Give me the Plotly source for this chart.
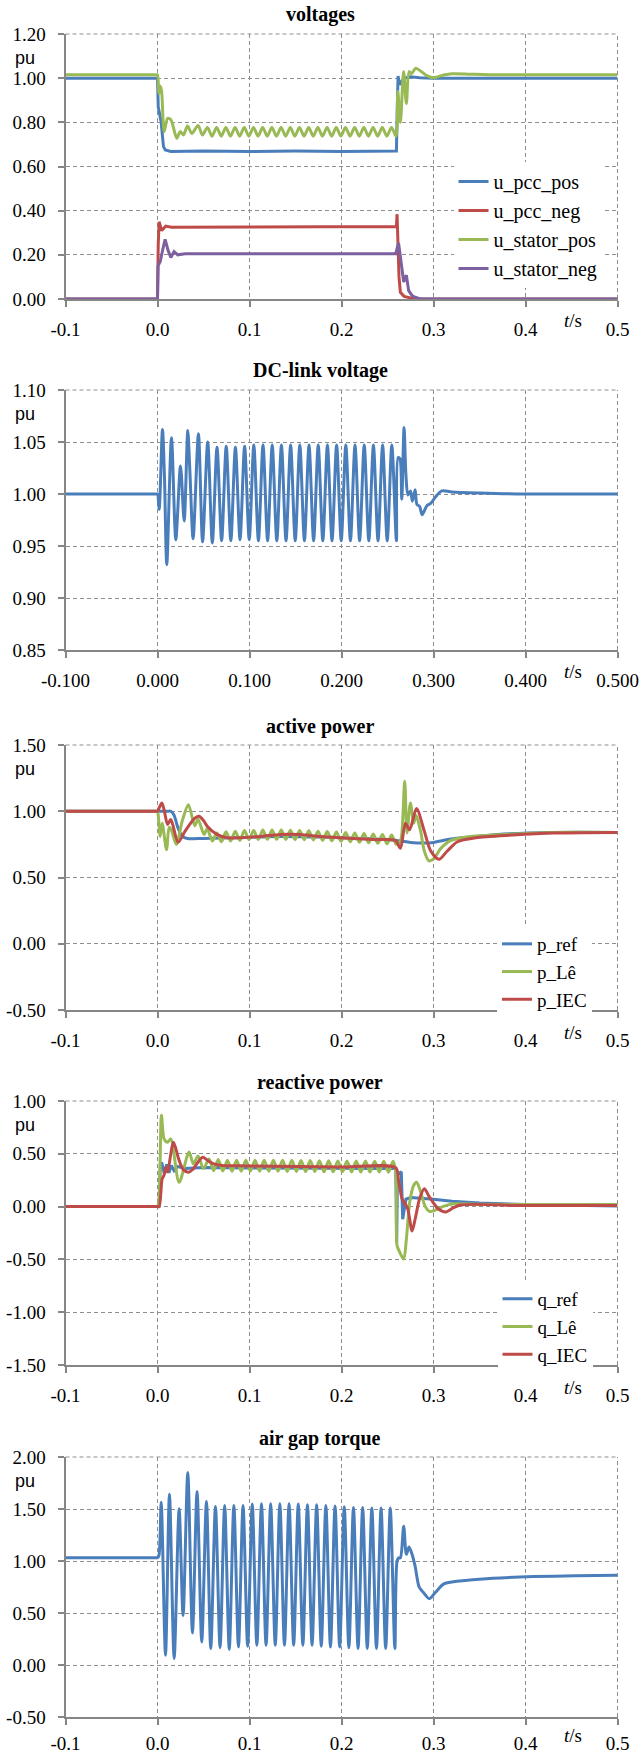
import plotly.graph_objects as go

# ---------------- data ----------------
x_ticks = [-0.1, 0.0, 0.1, 0.2, 0.3, 0.4, 0.5]
x_labels = ["-0.1", "0.0", "0.1", "0.2", "0.3", "0.4", "0.5"]
x_labels_dc = ["-0.100", "0.000", "0.100", "0.200", "0.300", "0.400", "0.500"]

y1_ticks = [0.0, 0.2, 0.4, 0.6, 0.8, 1.0, 1.2]
y1_labels = ["0.00", "0.20", "0.40", "0.60", "0.80", "1.00", "1.20"]
y2_ticks = [0.85, 0.90, 0.95, 1.00, 1.05, 1.10]
y2_labels = ["0.85", "0.90", "0.95", "1.00", "1.05", "1.10"]
y3_ticks = [-0.5, 0.0, 0.5, 1.0, 1.5]
y3_labels = ["-0.50", "0.00", "0.50", "1.00", "1.50"]
y4_ticks = [-1.5, -1.0, -0.5, 0.0, 0.5, 1.0]
y4_labels = ["-1.50", "-1.00", "-0.50", "0.00", "0.50", "1.00"]
y5_ticks = [-0.5, 0.0, 0.5, 1.0, 1.5, 2.0]
y5_labels = ["-0.50", "0.00", "0.50", "1.00", "1.50", "2.00"]

panel_titles = ["voltages", "DC-link voltage", "active power", "reactive power", "air gap torque"]

# voltages
t_upp = [-0.1, 0.0, 0.0008, 0.0020, 0.0040, 0.0065, 0.0085, 0.0145, 0.0500, 0.1000, 0.1500, 0.2000,
         0.2597, 0.2605, 0.2615, 0.2630, 0.2650, 0.2680, 0.2750, 0.2850, 0.3000, 0.5000]
v_upp = [1.0, 1.0, 0.87, 0.84, 0.80, 0.69, 0.675, 0.668, 0.670, 0.668, 0.670, 0.668,
         0.670, 0.85, 1.01, 0.97, 0.985, 1.0, 1.006, 1.002, 1.0, 1.0]

t_upn = [-0.1, 0.0, 0.0008, 0.0018, 0.0045, 0.0090, 0.0150, 0.1000, 0.2000, 0.2597, 0.2604, 0.2612,
         0.2625, 0.2640, 0.2680, 0.2760, 0.2850, 0.5000]
v_upn = [0.0, 0.0, 0.25, 0.35, 0.31, 0.33, 0.325, 0.325, 0.325, 0.328, 0.384, 0.30,
         0.10, 0.03, 0.012, 0.004, 0.0, 0.0]

t_usp = [-0.1, -0.0010, 0.0, 0.0015, 0.0030, 0.0045, 0.0072, 0.0110, 0.0145, 0.0210, 0.0246, 0.0282, 0.0326, 0.0373,
         0.0441, 0.0488,
         0.0543, 0.0593, 0.0643, 0.0693, 0.0743, 0.0793, 0.0843, 0.0893, 0.0943, 0.0993, 0.1043, 0.1093, 0.1143, 0.1193,
         0.1243, 0.1293, 0.1343, 0.1393, 0.1443, 0.1493, 0.1543, 0.1593, 0.1643, 0.1693, 0.1743, 0.1793, 0.1843, 0.1893,
         0.1943, 0.1993, 0.2043, 0.2093, 0.2143, 0.2193, 0.2243, 0.2293, 0.2343, 0.2393, 0.2443, 0.2493, 0.2543, 0.2593,
         0.2612, 0.2640, 0.2675, 0.2705, 0.2735, 0.2760, 0.2808, 0.2866, 0.2933, 0.3000, 0.3110, 0.3200, 0.3400, 0.3600,
         0.5000]
v_usp = [1.015, 1.015, 1.015, 0.93, 0.965, 0.94, 0.758, 0.818, 0.812, 0.728, 0.758, 0.743, 0.783, 0.750,
         0.786, 0.743,
         0.777, 0.737, 0.777, 0.737, 0.777, 0.737, 0.777, 0.737, 0.777, 0.737, 0.777, 0.737, 0.777, 0.737,
         0.777, 0.737, 0.777, 0.737, 0.777, 0.737, 0.777, 0.737, 0.777, 0.737, 0.777, 0.737, 0.777, 0.737,
         0.777, 0.737, 0.777, 0.737, 0.777, 0.737, 0.777, 0.737, 0.777, 0.737, 0.777, 0.737, 0.777, 0.737,
         0.94, 0.80, 1.03, 0.885, 1.03, 1.02, 1.045, 1.03, 1.01, 1.002, 1.014, 1.02, 1.018, 1.016,
         1.015]

t_usn = [-0.1, 0.0, 0.0006, 0.0030, 0.0055, 0.0083, 0.0115, 0.0145, 0.0180, 0.0220, 0.0300, 0.1000, 0.2000,
         0.2590, 0.2620, 0.2658, 0.2676, 0.2705, 0.2730, 0.2767, 0.2800, 0.2860, 0.5000]
v_usn = [0.0, 0.0, 0.15, 0.17, 0.22, 0.27, 0.22, 0.188, 0.215, 0.200, 0.205, 0.205, 0.205,
         0.205, 0.254, 0.138, 0.077, 0.108, 0.038, 0.015, 0.008, 0.0, 0.0]

# DC-link voltage
t_dc = [-0.1, -0.0010, 0.0, 0.0018, 0.0054, 0.0075, 0.0101, 0.0152, 0.0199, 0.0250, 0.0290, 0.0329, 0.0352, 0.0387,
        0.0445, 0.0490, 0.0546, 0.0596,
        0.0647, 0.0697, 0.0747, 0.0797, 0.0847, 0.0897, 0.0947, 0.0997, 0.1047, 0.1097, 0.1147, 0.1197, 0.1247, 0.1297,
        0.1347, 0.1397, 0.1447, 0.1497, 0.1547, 0.1597, 0.1647, 0.1697, 0.1747, 0.1797, 0.1847, 0.1897, 0.1947, 0.1997,
        0.2047, 0.2097, 0.2147, 0.2197, 0.2247, 0.2297, 0.2347, 0.2397, 0.2447, 0.2497, 0.2547, 0.2597,
        0.2615, 0.2635, 0.2655, 0.2680, 0.2700, 0.2722, 0.2750, 0.2770, 0.2800, 0.2820, 0.2850, 0.2876, 0.2930, 0.2970,
        0.3020, 0.3090, 0.3200, 0.3500, 0.4000, 0.5000]
v_dc = [1.000, 1.000, 1.000, 0.985, 1.062, 1.019, 0.932, 1.054, 0.956, 1.027, 0.974, 1.061, 1.022, 0.957,
        1.058, 0.954, 1.050, 0.953,
        1.045, 0.955, 1.046, 0.955, 1.045, 0.956, 1.046, 0.956, 1.047, 0.955, 1.047, 0.955, 1.047, 0.955,
        1.047, 0.955, 1.047, 0.955, 1.047, 0.955, 1.047, 0.955, 1.047, 0.955, 1.047, 0.955, 1.047, 0.955,
        1.047, 0.955, 1.047, 0.955, 1.047, 0.955, 1.047, 0.955, 1.047, 0.955, 1.047, 0.955,
        1.035, 1.034, 0.995, 1.064, 1.019, 0.999, 1.003, 0.993, 1.004, 0.990, 0.988, 0.980, 0.989, 0.991,
        0.997, 1.003, 1.002, 1.001, 1.000, 1.000]

# active power
t_pref = [-0.1, 0.0100, 0.0145, 0.0180, 0.0220, 0.0270, 0.0325, 0.0500, 0.0870, 0.1300, 0.1800, 0.2200, 0.2600,
          0.2750, 0.2900, 0.3000, 0.3190, 0.3400, 0.3700, 0.4300, 0.5000]
v_pref = [1.0, 1.0, 1.0, 0.97, 0.88, 0.81, 0.795, 0.795, 0.80, 0.81, 0.805, 0.795, 0.78,
          0.765, 0.76, 0.765, 0.79, 0.805, 0.825, 0.84, 0.84]

t_ple = [-0.1, -0.0010, 0.0, 0.0012, 0.0029, 0.0051, 0.0098, 0.0127, 0.0150, 0.0205, 0.0270, 0.0336, 0.0405, 0.0440,
         0.0506, 0.0540, 0.0597,
         0.0645, 0.0695, 0.0745, 0.0795, 0.0845, 0.0895, 0.0945, 0.0995, 0.1045, 0.1095, 0.1145, 0.1195, 0.1245, 0.1295,
         0.1345, 0.1395, 0.1445, 0.1495, 0.1545, 0.1595, 0.1645, 0.1695, 0.1745, 0.1795, 0.1845, 0.1895, 0.1945, 0.1995,
         0.2045, 0.2095, 0.2145, 0.2195, 0.2245, 0.2295, 0.2345, 0.2395, 0.2445, 0.2495, 0.2545, 0.2595,
         0.2625, 0.2650, 0.2687, 0.2712, 0.2749, 0.2785, 0.2810, 0.2860, 0.2900, 0.2950, 0.3000, 0.3080, 0.3190, 0.3400,
         0.3640, 0.4300, 0.5000]
v_ple = [1.0, 1.0, 1.0, 0.94, 0.81, 0.91, 0.71, 0.88, 0.86, 0.75, 0.93, 1.05, 0.89, 0.94,
         0.825, 0.87, 0.775,
         0.835, 0.770, 0.845, 0.775, 0.850, 0.780, 0.855, 0.785, 0.855, 0.787, 0.858, 0.788, 0.858, 0.788,
         0.858, 0.787, 0.857, 0.786, 0.855, 0.785, 0.853, 0.783, 0.850, 0.780, 0.847, 0.777, 0.843, 0.773,
         0.840, 0.770, 0.836, 0.766, 0.832, 0.762, 0.828, 0.758, 0.824, 0.754, 0.820, 0.750,
         0.76, 0.80, 1.226, 0.836, 1.063, 0.91, 0.97, 0.85, 0.70, 0.625, 0.64, 0.72, 0.78, 0.81,
         0.82, 0.84, 0.84]

t_piec = [-0.1, -0.0010, 0.0, 0.0047, 0.0075, 0.0110, 0.0145, 0.0224, 0.0300, 0.0400, 0.0450, 0.0500, 0.0540, 0.0650,
          0.0760, 0.0900, 0.1120, 0.1340, 0.1550, 0.1770, 0.1990, 0.2350, 0.2586, 0.2640, 0.2695, 0.2740, 0.2815,
          0.2900, 0.2970, 0.3060, 0.3150, 0.3260, 0.3460, 0.3860, 0.4300, 0.5000]
v_piec = [1.0, 1.0, 1.0, 1.063, 1.0, 0.90, 0.937, 0.766, 0.85, 0.945, 0.962, 0.93, 0.887, 0.824,
          0.80, 0.80, 0.81, 0.825, 0.824, 0.81, 0.80, 0.786, 0.78, 0.72, 0.91, 0.86, 1.02,
          0.85, 0.70, 0.637, 0.70, 0.77, 0.80, 0.82, 0.835, 0.84]

# reactive power
t_qref = [-0.1, 0.0015, 0.0030, 0.0045, 0.0075, 0.0100, 0.0125, 0.0150, 0.0180, 0.0220, 0.0300, 0.0500, 0.1000,
          0.2000, 0.2590, 0.2600, 0.2608, 0.2650, 0.2665, 0.2700, 0.2750, 0.3000, 0.3200, 0.3500, 0.4000, 0.5000]
v_qref = [0.0, 0.0, 0.38, 0.42, 0.31, 0.40, 0.32, 0.39, 0.34, 0.38, 0.36, 0.37, 0.365,
          0.36, 0.36, -0.34, 0.30, 0.33, -0.12, 0.07, 0.085, 0.07, 0.05, 0.035, 0.02, 0.005]

t_qle = [-0.1, -0.0010, 0.0, 0.0015, 0.0043, 0.0072, 0.0108, 0.0145, 0.0235, 0.0343, 0.0390, 0.0441, 0.0500,
         0.0560, 0.0610, 0.0660, 0.0710, 0.0760, 0.0810, 0.0860, 0.0910, 0.0960, 0.1010, 0.1060, 0.1110, 0.1160,
         0.1210, 0.1260, 0.1310, 0.1360, 0.1410, 0.1460, 0.1510, 0.1560, 0.1610, 0.1660, 0.1710, 0.1760, 0.1810,
         0.1860, 0.1910, 0.1960, 0.2010, 0.2060, 0.2110, 0.2160, 0.2210, 0.2260, 0.2310, 0.2360, 0.2410, 0.2460,
         0.2510, 0.2560,
         0.2590, 0.2604, 0.2632, 0.2676, 0.2705, 0.2741, 0.2784, 0.2816, 0.2860, 0.2910, 0.2955, 0.3000, 0.3100,
         0.3200, 0.3500, 0.4000, 0.5000]
v_qle = [0.0, 0.0, 0.0, 0.05, 0.864, 0.64, 0.61, 0.64, 0.23, 0.516, 0.405, 0.48, 0.36,
         0.450, 0.340, 0.445, 0.337, 0.440, 0.335, 0.440, 0.335, 0.440, 0.335, 0.440, 0.335, 0.440,
         0.335, 0.440, 0.335, 0.438, 0.333, 0.438, 0.333, 0.436, 0.332, 0.436, 0.332, 0.435, 0.330,
         0.435, 0.330, 0.433, 0.330, 0.433, 0.328, 0.432, 0.328, 0.432, 0.327, 0.430, 0.327, 0.430,
         0.326, 0.430,
         0.33, -0.37, -0.43, -0.497, -0.31, 0.04, 0.20, 0.23, 0.14, 0.0, -0.045, -0.04, 0.0,
         0.025, 0.022, 0.02, 0.02]

t_qiec = [-0.1, -0.0010, 0.0, 0.0018, 0.0050, 0.0072, 0.0090, 0.0108, 0.0174, 0.0230, 0.0280, 0.0340, 0.0380,
          0.0490, 0.0540, 0.0610, 0.0700, 0.1000, 0.2000, 0.2590, 0.2620, 0.2660, 0.2690, 0.2720, 0.2767, 0.2800,
          0.2850, 0.2900, 0.2950, 0.3050, 0.3135, 0.3200, 0.3290, 0.4000, 0.5000]
v_qiec = [0.0, 0.0, 0.0, 0.0, 0.26, 0.30, 0.37, 0.33, 0.61, 0.45, 0.35, 0.326, 0.35,
          0.468, 0.44, 0.405, 0.39, 0.385, 0.375, 0.367, 0.25, 0.07, 0.03, -0.02, -0.23, -0.12,
          0.08, 0.17, 0.10, -0.02, -0.05, -0.02, 0.015, 0.01, 0.01]

# air gap torque
t_tq = [-0.1, -0.0010, 0.0, 0.0015, 0.0040, 0.0087, 0.0130, 0.0181, 0.0235, 0.0278, 0.0329, 0.0380, 0.0430, 0.0481,
        0.0532, 0.0579,
        0.0630, 0.0680, 0.0730, 0.0780, 0.0830, 0.0880, 0.0930, 0.0980, 0.1030, 0.1080, 0.1130, 0.1180, 0.1230, 0.1280,
        0.1330, 0.1380, 0.1430, 0.1480, 0.1530, 0.1580, 0.1630, 0.1680, 0.1730, 0.1780, 0.1830, 0.1880, 0.1930, 0.1980,
        0.2030, 0.2080, 0.2130, 0.2180, 0.2230, 0.2280, 0.2330, 0.2380, 0.2430, 0.2480, 0.2530, 0.2580,
        0.2604, 0.2622, 0.2640, 0.2676, 0.2705, 0.2734, 0.2767, 0.2800, 0.2844, 0.2888, 0.2955, 0.3022, 0.3112, 0.3200,
        0.3424, 0.3647, 0.4094, 0.4540, 0.5000]
v_tq = [1.032, 1.032, 1.032, 1.05, 1.566, 0.094, 1.642, 0.062, 1.502, 0.476, 1.852, 0.307, 1.668, 0.221,
        1.572, 0.158,
        1.524, 0.167, 1.534, 0.151, 1.534, 0.174, 1.534, 0.180, 1.547, 0.189, 1.550, 0.189, 1.550, 0.189,
        1.550, 0.189, 1.550, 0.189, 1.547, 0.189, 1.540, 0.189, 1.540, 0.180, 1.534, 0.174, 1.528, 0.174,
        1.521, 0.167, 1.515, 0.158, 1.515, 0.158, 1.509, 0.158, 1.509, 0.158, 1.509, 0.158,
        1.0, 1.03, 1.03, 1.334, 1.064, 1.134, 1.064, 0.95, 0.75, 0.70, 0.638, 0.70, 0.78, 0.798,
        0.82, 0.835, 0.85, 0.858, 0.862]

for a, b in [(t_upp, v_upp), (t_upn, v_upn), (t_usp, v_usp), (t_usn, v_usn), (t_dc, v_dc),
             (t_pref, v_pref), (t_ple, v_ple), (t_piec, v_piec), (t_qref, v_qref), (t_qle, v_qle),
             (t_qiec, v_qiec), (t_tq, v_tq)]:
    assert len(a) == len(b), (len(a), len(b))

# ---------------- styling / layout ----------------
W, H = 644, 1754
BLUE, RED, GREEN, PURPLE = "#4A7EBB", "#BE4B48", "#98B954", "#7D60A0"
AXC = "#868686"
GRIDC = "#8f8f8f"
SERIF = "Liberation Serif, Times New Roman, serif"
SANS = "Liberation Sans, Arial, sans-serif"

X_L, X_R = 65.5, 617.5
panels = [(34, 299), (390, 650), (745, 1010), (1101, 1365), (1457, 1717)]
yranges = [[0, 1.2], [0.85, 1.10], [-0.5, 1.5], [-1.5, 1.0], [-0.5, 2.0]]
yticks = [(y1_ticks, y1_labels), (y2_ticks, y2_labels), (y3_ticks, y3_labels),
          (y4_ticks, y4_labels), (y5_ticks, y5_labels)]
x_standoff = [6, 6, 6, 6, 2]


def fx(p):
    return p / W


def fy(p):
    return 1 - p / H


fig = go.Figure()


def add(t, v, name, color, idx, legend=None, shape="spline"):
    sfx = "" if idx == 1 else str(idx)
    line = dict(color=color, width=3, shape=shape)
    if shape == "spline":
        line["smoothing"] = 0.8
    fig.add_trace(go.Scatter(
        x=t, y=v, mode="lines", name=name, line=line,
        xaxis="x" + sfx, yaxis="y" + sfx,
        showlegend=legend is not None,
        legend=legend if legend else "legend",
        hoverinfo="skip",
    ))


add(t_upp, v_upp, "u_pcc_pos", BLUE, 1, "legend", "linear")
add(t_upn, v_upn, "u_pcc_neg", RED, 1, "legend", "linear")
add(t_usp, v_usp, "u_stator_pos", GREEN, 1, "legend", "spline")
add(t_usn, v_usn, "u_stator_neg", PURPLE, 1, "legend", "linear")
add(t_dc, v_dc, "u_dc", BLUE, 2, None, "spline")
add(t_pref, v_pref, "p_ref", BLUE, 3, "legend2", "spline")
add(t_ple, v_ple, "p_Lê", GREEN, 3, "legend2", "spline")
add(t_piec, v_piec, "p_IEC", RED, 3, "legend2", "spline")
add(t_qref, v_qref, "q_ref", BLUE, 4, "legend3", "linear")
add(t_qle, v_qle, "q_Lê", GREEN, 4, "legend3", "spline")
add(t_qiec, v_qiec, "q_IEC", RED, 4, "legend3", "spline")
add(t_tq, v_tq, "T_e", BLUE, 5, None, "spline")

layout = dict(
    width=W, height=H,
    margin=dict(l=0, r=0, t=0, b=0, autoexpand=False),
    paper_bgcolor="white", plot_bgcolor="white",
    showlegend=True,
    annotations=[], shapes=[],
)

for i, ((top, bot), yr, (ytv, ytt)) in enumerate(zip(panels, yranges, yticks)):
    n = i + 1
    sfx = "" if n == 1 else str(n)
    common = dict(
        showgrid=True, gridcolor=GRIDC, gridwidth=1, griddash="4px,3px",
        showline=True, linecolor=AXC, linewidth=2,
        ticks="outside", ticklen=6, tickwidth=1.5, tickcolor=AXC,
        zeroline=False, tickfont=dict(family=SERIF, size=19, color="black"),
        fixedrange=True, automargin=False,
    )
    layout["xaxis" + sfx] = dict(
        common, domain=[fx(X_L), fx(X_R)], anchor="y" + sfx, range=[-0.1, 0.5],
        tickmode="array", tickvals=x_ticks,
        ticktext=x_labels_dc if n == 2 else x_labels,
        ticklabelstandoff=x_standoff[i],
    )
    layout["yaxis" + sfx] = dict(
        common, domain=[fy(bot), fy(top)], anchor="x" + sfx, range=yr,
        tickmode="array", tickvals=ytv, ticktext=ytt,
        ticklabelstandoff=8,
    )
    # dashed top and right edge gridlines
    for x0, y0, x1, y1 in [(0, 1, 1, 1), (1, 0, 1, 1)]:
        layout["shapes"].append(dict(
            type="line", xref="x" + sfx + " domain", yref="y" + sfx + " domain",
            x0=x0, y0=y0, x1=x1, y1=y1,
            line=dict(color=GRIDC, width=1, dash="4px,3px"), layer="below",
        ))
    # title
    layout["annotations"].append(dict(
        text="<b>" + panel_titles[i] + "</b>", xref="paper", yref="paper",
        x=fx(320), y=fy(top - 19), xanchor="center", yanchor="middle", showarrow=False,
        font=dict(family=SERIF, size=20, color="black"),
    ))
    # unit label
    layout["annotations"].append(dict(
        text="pu", xref="paper", yref="paper",
        x=fx(25), y=fy(top + 24), xanchor="center", yanchor="middle", showarrow=False,
        font=dict(family=SANS, size=18, color="black"),
    ))
    # time label
    layout["annotations"].append(dict(
        text="<i>t</i>/s", xref="paper", yref="paper",
        x=fx(573), y=fy(bot + 22 - (4 if n == 5 else 0)), xanchor="center", yanchor="middle",
        showarrow=False, font=dict(family=SERIF, size=19, color="black"),
    ))

legend_common = dict(xanchor="left", yanchor="top", bgcolor="white", borderwidth=0,
                     tracegroupgap=0, traceorder="normal")
layout["legend"] = dict(legend_common, x=fx(453.5), y=fy(162), font=dict(family=SERIF, size=20, color="black"))
layout["legend2"] = dict(legend_common, x=fx(497), y=fy(925), font=dict(family=SERIF, size=19, color="black"))
layout["legend3"] = dict(legend_common, x=fx(497.5), y=fy(1280), font=dict(family=SERIF, size=19, color="black"))

fig.update_layout(layout)
fig.write_html(
    "out.html",
    config={"displayModeBar": False},
    post_script="document.body.style.margin='0px';document.body.style.padding='0px';"
                "document.body.style.overflow='hidden';",
)
